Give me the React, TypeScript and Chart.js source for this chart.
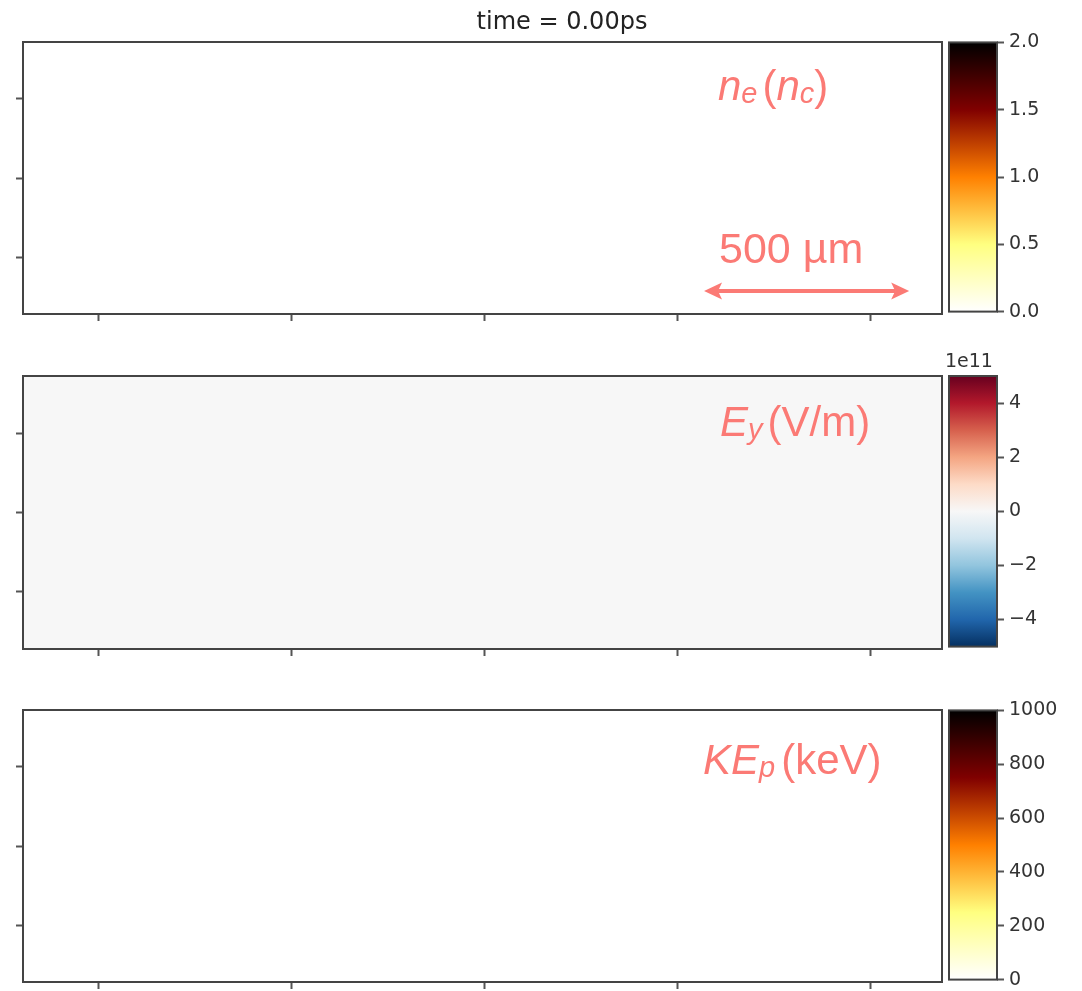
import React, { useEffect, useRef } from 'react';
import { Chart, registerables } from 'chart.js';

Chart.register(...registerables);

// ---- data -----------------------------------------------------------------

const TIME_LABEL = 'time = 0.00ps';

// simulation window, µm
const X_RANGE = [0, 2240];
const X_TICKS = [185, 655, 1125, 1595, 2065];
const Y_RANGE = [-172, 172];
const Y_TICKS = [-100, 0, 100];

// scale bar (µm)
const SCALE_BAR_START = 1660;
const SCALE_BAR_LENGTH = 500;
const SCALE_BAR_Y = -143;
const SCALE_BAR_TEXT = '500 µm';

// field levels at t = 0 (uniform)
const NE_LEVEL = 0;
const EY_LEVEL = 0;
const KE_LEVEL = 0;

// colour bar ranges and ticks
const NE_RANGE = [0, 2];
const NE_CBAR_TICKS = [0, 0.5, 1, 1.5, 2];
const NE_CBAR_LABELS = ['0.0', '0.5', '1.0', '1.5', '2.0'];

const EY_RANGE = [-5, 5]; // ×1e11 V/m
const EY_CBAR_TICKS = [-4, -2, 0, 2, 4];
const EY_CBAR_LABELS = ['\u22124', '\u22122', '0', '2', '4'];
const EY_OFFSET_TEXT = '1e11';

const KE_RANGE = [0, 1000];
const KE_CBAR_TICKS = [0, 200, 400, 600, 800, 1000];
const KE_CBAR_LABELS = ['0', '200', '400', '600', '800', '1000'];

// colormaps (evenly spaced stops, low -> high)
const AFMHOT_R = ['#ffffff', '#ffff80', '#ff8000', '#800000', '#000000'];
const RDBU_R = [
  '#053061', '#2166ac', '#4393c3', '#92c5de', '#d1e5f0', '#f7f7f7',
  '#fddbc7', '#f4a582', '#d6604d', '#b2182b', '#67001f',
];

// ---- styling ----------------------------------------------------------------

const FRAME_COLOR = '#444444';
const TICK_TEXT = '#333333';
const NOTE_COLOR = '#fb7a75';
const TICK_FONT = 'DejaVu Sans';
const NOTE_FONT = '"Liberation Sans", Arial, sans-serif';

type Seg = { t: string; italic?: boolean; sub?: boolean; gap?: number };

const NE_NOTE: Seg[] = [
  { t: 'n', italic: true }, { t: 'e', italic: true, sub: true },
  { t: '(', gap: 5 }, { t: 'n', italic: true }, { t: 'c', italic: true, sub: true }, { t: ')' },
];
const EY_NOTE: Seg[] = [
  { t: 'E', italic: true }, { t: 'y', italic: true, sub: true },
  { t: '(V/m)', gap: 5 },
];
const KE_NOTE: Seg[] = [
  { t: 'KE', italic: true }, { t: 'p', italic: true, sub: true },
  { t: '(keV)', gap: 6 },
];

type PanelSpec = {
  key: string;
  top: number;
  height: number;
  padTop: number;
  cbPadTop: number;
  level: number;
  range: number[];
  cmap: string[];
  cbTicks: number[];
  cbLabels: string[];
  note: Seg[];
  noteX: number;
  noteBaseline: number;
  title?: string;
  scaleBar?: boolean;
  offsetText?: string;
};

const PANELS: PanelSpec[] = [
  {
    key: 'ne', top: 42, height: 272, padTop: 42, cbPadTop: 16,
    level: NE_LEVEL, range: NE_RANGE, cmap: AFMHOT_R,
    cbTicks: NE_CBAR_TICKS, cbLabels: NE_CBAR_LABELS,
    note: NE_NOTE, noteX: 718, noteBaseline: 58,
    title: TIME_LABEL, scaleBar: true,
  },
  {
    key: 'ey', top: 376, height: 273, padTop: 12, cbPadTop: 30,
    level: EY_LEVEL, range: EY_RANGE, cmap: RDBU_R,
    cbTicks: EY_CBAR_TICKS, cbLabels: EY_CBAR_LABELS,
    note: EY_NOTE, noteX: 720, noteBaseline: 60,
    offsetText: EY_OFFSET_TEXT,
  },
  {
    key: 'ke', top: 710, height: 272, padTop: 12, cbPadTop: 16,
    level: KE_LEVEL, range: KE_RANGE, cmap: AFMHOT_R,
    cbTicks: KE_CBAR_TICKS, cbLabels: KE_CBAR_LABELS,
    note: KE_NOTE, noteX: 703, noteBaseline: 64,
  },
];

// ---- helpers ----------------------------------------------------------------

function hexToRgb(h: string): number[] {
  const v = parseInt(h.slice(1), 16);
  return [(v >> 16) & 255, (v >> 8) & 255, v & 255];
}

function sampleCmap(stops: string[], t: number): string {
  const n = stops.length - 1;
  const u = Math.min(Math.max(t, 0), 1) * n;
  const i = Math.min(Math.floor(u), n - 1);
  const f = u - i;
  const a = hexToRgb(stops[i]);
  const b = hexToRgb(stops[i + 1]);
  const c = a.map((av, k) => Math.round(av + (b[k] - av) * f));
  return `rgb(${c[0]},${c[1]},${c[2]})`;
}

function drawRich(ctx: CanvasRenderingContext2D, segs: Seg[], x: number, y: number, size: number) {
  let cx = x;
  ctx.fillStyle = NOTE_COLOR;
  ctx.textBaseline = 'alphabetic';
  ctx.textAlign = 'left';
  for (const s of segs) {
    if (s.gap) cx += s.gap;
    const fs = s.sub ? Math.round(size * 0.7) : size;
    ctx.font = `${s.italic ? 'italic ' : ''}${fs}px ${NOTE_FONT}`;
    ctx.fillText(s.t, cx, y + (s.sub ? 3 : 0));
    cx += ctx.measureText(s.t).width;
  }
}

const framePlugin = {
  id: 'frame',
  afterDraw(chart: any) {
    const { ctx, chartArea: a } = chart;
    ctx.save();
    ctx.strokeStyle = FRAME_COLOR;
    ctx.lineWidth = 2;
    ctx.strokeRect(a.left, a.top, a.right - a.left, a.bottom - a.top);
    ctx.restore();
  },
};

const MAIN_W = 952;
const CB_LEFT = 940;
const CB_W = 142;

// ---- field panel ------------------------------------------------------------

function FieldPanel({ p }: { p: PanelSpec }) {
  const ref = useRef<HTMLCanvasElement>(null);
  const h = p.padTop + p.height + 14;

  useEffect(() => {
    const canvas = ref.current!;
    const fill = sampleCmap(p.cmap, (p.level - p.range[0]) / (p.range[1] - p.range[0]));

    const fieldPlugin = {
      id: 'field',
      beforeDraw(chart: any) {
        const { ctx, chartArea: a } = chart;
        ctx.save();
        ctx.fillStyle = fill;
        ctx.fillRect(a.left, a.top, a.right - a.left, a.bottom - a.top);
        ctx.restore();
      },
    };

    const notePlugin = {
      id: 'note',
      afterDraw(chart: any) {
        const { ctx, chartArea: a } = chart;
        ctx.save();
        if (p.title) {
          ctx.font = `24px ${TICK_FONT}`;
          ctx.fillStyle = '#222222';
          ctx.textAlign = 'center';
          ctx.textBaseline = 'alphabetic';
          ctx.fillText(p.title, 562, a.top - 13);
        }
        drawRich(ctx, p.note, p.noteX, a.top + p.noteBaseline, 42);
        if (p.scaleBar) {
          const xs = chart.scales.x;
          const ys = chart.scales.y;
          const x1 = xs.getPixelForValue(SCALE_BAR_START);
          const x2 = xs.getPixelForValue(SCALE_BAR_START + SCALE_BAR_LENGTH);
          const y = ys.getPixelForValue(SCALE_BAR_Y);
          const hl = 18;
          const hw = 8.5;
          ctx.strokeStyle = NOTE_COLOR;
          ctx.fillStyle = NOTE_COLOR;
          ctx.lineWidth = 4;
          ctx.beginPath();
          ctx.moveTo(x1 + hl - 4, y);
          ctx.lineTo(x2 - hl + 4, y);
          ctx.stroke();
          ctx.beginPath();
          ctx.moveTo(x1, y);
          ctx.lineTo(x1 + hl, y - hw);
          ctx.lineTo(x1 + hl - 4, y);
          ctx.lineTo(x1 + hl, y + hw);
          ctx.closePath();
          ctx.fill();
          ctx.beginPath();
          ctx.moveTo(x2, y);
          ctx.lineTo(x2 - hl, y - hw);
          ctx.lineTo(x2 - hl + 4, y);
          ctx.lineTo(x2 - hl, y + hw);
          ctx.closePath();
          ctx.fill();
          ctx.font = `43px ${NOTE_FONT}`;
          ctx.textAlign = 'left';
          ctx.textBaseline = 'alphabetic';
          ctx.fillText(SCALE_BAR_TEXT, x1 + 15, y - 28);
        }
        ctx.restore();
      },
    };

    const tickGrid = {
      display: true,
      drawOnChartArea: false,
      drawTicks: true,
      tickLength: 7,
      tickWidth: 2,
      tickColor: '#555555',
    };

    const chart = new Chart(canvas, {
      type: 'scatter',
      data: { datasets: [] },
      options: {
        responsive: false,
        animation: false,
        devicePixelRatio: 1,
        events: [],
        layout: { padding: { top: p.padTop, right: 10, left: 0, bottom: 0 } },
        plugins: { legend: { display: false }, tooltip: { enabled: false } },
        scales: {
          x: {
            type: 'linear',
            position: 'bottom',
            min: X_RANGE[0],
            max: X_RANGE[1],
            afterBuildTicks: (s: any) => { s.ticks = X_TICKS.map((v) => ({ value: v })); },
            ticks: { display: false },
            grid: tickGrid,
            border: { display: false },
            afterFit: (s: any) => { s.height = 14; },
          },
          y: {
            type: 'linear',
            position: 'left',
            min: Y_RANGE[0],
            max: Y_RANGE[1],
            afterBuildTicks: (s: any) => { s.ticks = Y_TICKS.map((v) => ({ value: v })); },
            ticks: { display: false },
            grid: tickGrid,
            border: { display: false },
            afterFit: (s: any) => { s.width = 23; },
          },
        },
      } as any,
      plugins: [fieldPlugin, framePlugin, notePlugin],
    });
    return () => chart.destroy();
  }, [p]);

  return (
    <canvas
      ref={ref}
      width={MAIN_W}
      height={h}
      style={{ position: 'absolute', left: 0, top: p.top - p.padTop, width: MAIN_W, height: h }}
    />
  );
}

// ---- colour bar -------------------------------------------------------------

function ColorBar({ p }: { p: PanelSpec }) {
  const ref = useRef<HTMLCanvasElement>(null);
  const h = p.cbPadTop + p.height + 14;

  useEffect(() => {
    const canvas = ref.current!;
    const [lo, hi] = p.range;

    const offsetPlugin = {
      id: 'offsetText',
      afterDraw(chart: any) {
        if (!p.offsetText) return;
        const { ctx, chartArea: a } = chart;
        ctx.save();
        ctx.font = `19px ${TICK_FONT}`;
        ctx.fillStyle = TICK_TEXT;
        ctx.textAlign = 'left';
        ctx.textBaseline = 'alphabetic';
        ctx.fillText(p.offsetText, a.left - 4, a.top - 9);
        ctx.restore();
      },
    };

    const chart = new Chart(canvas, {
      type: 'bar',
      data: {
        labels: [''],
        datasets: [
          {
            data: [[lo, hi]],
            borderWidth: 0,
            barPercentage: 1,
            categoryPercentage: 1,
            backgroundColor: (c: any) => {
              const ch = c.chart;
              const ys = ch.scales.y;
              if (!ys || !ch.chartArea) return 'transparent';
              const g = ch.ctx.createLinearGradient(0, ys.getPixelForValue(lo), 0, ys.getPixelForValue(hi));
              p.cmap.forEach((s, i) => g.addColorStop(i / (p.cmap.length - 1), s));
              return g;
            },
          } as any,
        ],
      },
      options: {
        responsive: false,
        animation: false,
        devicePixelRatio: 1,
        events: [],
        layout: { padding: { top: p.cbPadTop, left: 9, right: 0, bottom: 14 } },
        plugins: { legend: { display: false }, tooltip: { enabled: false } },
        scales: {
          x: { display: false },
          y: {
            type: 'linear',
            position: 'right',
            min: lo,
            max: hi,
            afterBuildTicks: (s: any) => { s.ticks = p.cbTicks.map((v) => ({ value: v })); },
            ticks: {
              autoSkip: false,
              padding: 5,
              color: TICK_TEXT,
              font: { family: TICK_FONT, size: 19 },
              callback: (v: any) => {
                const i = p.cbTicks.indexOf(Number(v));
                return i >= 0 ? p.cbLabels[i] : '';
              },
            },
            grid: {
              display: true,
              drawOnChartArea: false,
              drawTicks: true,
              tickLength: 7,
              tickWidth: 2,
              tickColor: '#555555',
            },
            border: { display: false },
            afterFit: (s: any) => { s.width = 85; },
          },
        },
      } as any,
      plugins: [framePlugin, offsetPlugin],
    });
    return () => chart.destroy();
  }, [p]);

  return (
    <canvas
      ref={ref}
      width={CB_W}
      height={h}
      style={{ position: 'absolute', left: CB_LEFT, top: p.top - p.cbPadTop, width: CB_W, height: h }}
    />
  );
}

export default function App() {
  return (
    <div
      style={{
        position: 'absolute',
        left: 0,
        top: 0,
        width: 1082,
        height: 991,
        overflow: 'hidden',
        background: '#ffffff',
      }}
    >
      {PANELS.map((p) => (
        <FieldPanel key={`f-${p.key}`} p={p} />
      ))}
      {PANELS.map((p) => (
        <ColorBar key={`c-${p.key}`} p={p} />
      ))}
    </div>
  );
}
